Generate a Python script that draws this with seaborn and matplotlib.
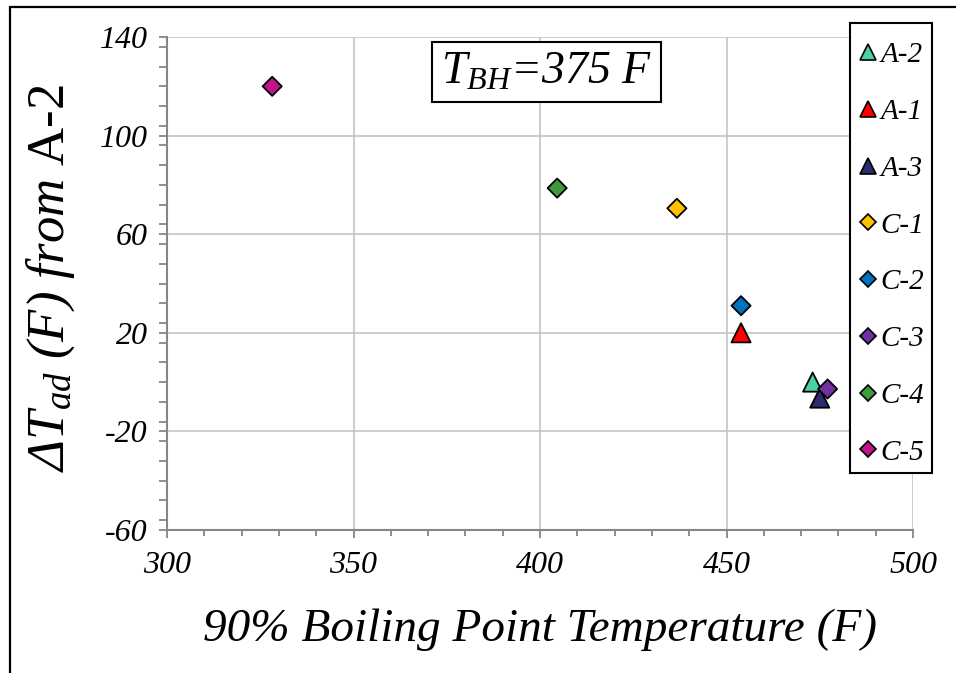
import numpy as np
import pandas as pd
import matplotlib
matplotlib.use("Agg")
import matplotlib.pyplot as plt
from matplotlib.lines import Line2D
from matplotlib.patches import Rectangle
from matplotlib.ticker import MultipleLocator
import seaborn as sns

# ---- data ----
a_labels = ["A-2", "A-1", "A-3"]
a_x = [473.1, 453.9, 475.0]
a_y = [0.0, 20.0, -6.5]
c_labels = ["C-1", "C-2", "C-3", "C-4", "C-5"]
c_x = [436.7, 453.9, 477.1, 404.6, 328.2]
c_y = [70.5, 31.0, -2.8, 78.7, 120.0]
colors = {"A-2": "#48D1A8", "A-1": "#FF0000", "A-3": "#2B2B72",
          "C-1": "#FFC000", "C-2": "#0070C0", "C-3": "#7030A0",
          "C-4": "#3F9A3A", "C-5": "#C0148C"}
legend_order = ["A-2", "A-1", "A-3", "C-1", "C-2", "C-3", "C-4", "C-5"]
x_ticks = [300, 350, 400, 450, 500]
y_ticks = [-60, -20, 20, 60, 100, 140]

sns.set_theme(style="white")
plt.rcParams["font.family"] = ["Liberation Serif", "DejaVu Serif"]
plt.rcParams["mathtext.fontset"] = "custom"
plt.rcParams["mathtext.rm"] = "Liberation Serif"
plt.rcParams["mathtext.it"] = "Liberation Serif:italic"
plt.rcParams["axes.unicode_minus"] = False
plt.rcParams["text.color"] = "black"
plt.rcParams["axes.labelcolor"] = "black"
plt.rcParams["xtick.color"] = "black"
plt.rcParams["ytick.color"] = "black"

dfa = pd.DataFrame({"x": a_x, "y": a_y, "label": a_labels})
dfc = pd.DataFrame({"x": c_x, "y": c_y, "label": c_labels})

fig = plt.figure(figsize=(9.56, 6.73), dpi=100)
ax = fig.add_axes([167/956, 1-530/673, 746/956, 493/673])

sns.scatterplot(data=dfa, x="x", y="y", hue="label", palette=colors,
                marker="^", s=190, edgecolor="black", linewidth=1.3,
                legend=False, ax=ax, zorder=3)
sns.scatterplot(data=dfc, x="x", y="y", hue="label", palette=colors,
                marker="D", s=95, edgecolor="black", linewidth=1.3,
                legend=False, ax=ax, zorder=4)

ax.set_xlim(300, 500)
ax.set_ylim(-60, 140)
ax.set_xticks(x_ticks)
ax.set_yticks(y_ticks)
ax.xaxis.set_minor_locator(MultipleLocator(10))
ax.yaxis.set_minor_locator(MultipleLocator(8))
ax.grid(True, which="major", color="#C0C0C0", linewidth=1.1)
ax.grid(False, which="minor")
ax.set_axisbelow(True)
for s in ["top", "right"]:
    ax.spines[s].set_visible(False)
for s in ["left", "bottom"]:
    ax.spines[s].set_color("#868686")
    ax.spines[s].set_linewidth(1.5)
ax.tick_params(which="both", bottom=True, left=True, top=False, right=False)
ax.tick_params(which="major", direction="out", length=6, width=1.3,
               color="#868686", labelcolor="black", labelsize=23)
ax.tick_params(axis="x", which="major", pad=9)
ax.tick_params(axis="y", which="major", pad=8)
ax.tick_params(which="minor", direction="out", length=4, width=1.3,
               color="#868686")
ax.tick_params(axis="y", which="minor", length=6)
for lab in ax.get_xticklabels() + ax.get_yticklabels():
    lab.set_fontstyle("italic")

ax.set_xlabel("90% Boiling Point Temperature (F)", fontsize=34,
              fontstyle="italic", color="black")
ax.xaxis.set_label_coords(0.5, -0.16)
ax.set_ylabel(r"Δ$\mathit{T}_{\mathit{ad}}$ (F) from $\mathrm{A}$-$\mathrm{2}$",
              fontsize=38, fontstyle="italic", color="black")
ax.yaxis.set_label_coords(-0.12, 0.511)

ax.text(0.509, 0.929, r"$\mathit{T}_{\mathit{BH}}$=375 F", transform=ax.transAxes,
        fontsize=33, fontstyle="italic", ha="center", va="center", color="black",
        bbox=dict(boxstyle="square,pad=0.2", facecolor="white",
                  edgecolor="black", linewidth=1.5), zorder=5)

# legend frame drawn separately (taller padding vertically than horizontally)
fig.add_artist(Rectangle((850/956, 1-473/673), 82/956, 450/673,
                         transform=fig.transFigure, facecolor="white",
                         edgecolor="black", linewidth=1.5, zorder=2))

handles = []
for lab in legend_order:
    mk = "^" if lab.startswith("A") else "D"
    ms = 11.5 if mk == "^" else 8
    handles.append(Line2D([], [], linestyle="none", marker=mk, markersize=ms,
                          markerfacecolor=colors[lab], markeredgecolor="black",
                          markeredgewidth=1.2, label=lab))
leg = fig.legend(handles=handles, loc="upper left",
                 bbox_to_anchor=(859/956, 1-42/673),
                 prop={"style": "italic", "size": 21},
                 frameon=False, borderpad=0,
                 labelspacing=1.04, handlelength=0.6,
                 handletextpad=0.15, borderaxespad=0)
leg.set_zorder(3)
for t in leg.get_texts():
    t.set_color("black")

# outer chart frame (left and top visible)
fig.add_artist(Line2D([10/956, 10/956], [0, 1-7/673], color="black",
                      linewidth=1.6, transform=fig.transFigure))
fig.add_artist(Line2D([10/956, 1], [1-7/673, 1-7/673], color="black",
                      linewidth=1.6, transform=fig.transFigure))

fig.savefig("out.png", dpi=100)
